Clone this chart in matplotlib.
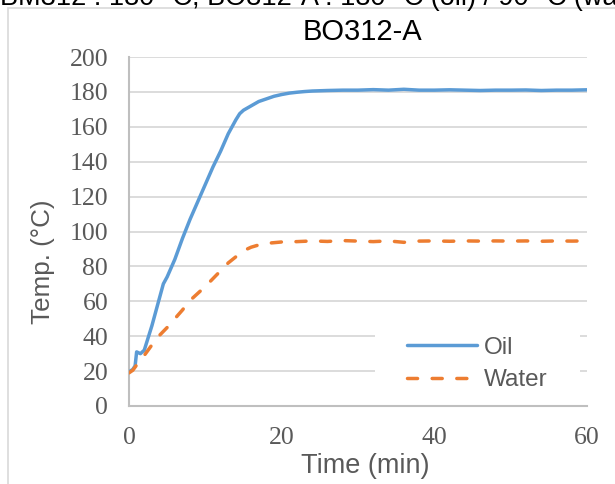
import matplotlib
matplotlib.use("Agg")
import matplotlib.pyplot as plt
from matplotlib.patches import Rectangle

# Oil temperature
oil_t = [0, 0.5, 0.8, 1.0, 1.5, 2.0, 2.5, 3.0, 3.5, 4.0, 4.5, 5.0, 6.0, 7.0, 8.0,
         9.0, 10, 11, 12, 13, 13.5, 14, 14.5, 15, 16, 17, 18, 19, 20, 21, 22, 23,
         24, 26, 28, 30, 32, 34, 36, 38, 40, 42, 44, 46, 48, 50, 52, 54, 56, 58, 60]
oil_T = [19.5, 21, 23, 31, 30, 32, 39, 46, 54, 62, 70, 74, 84, 96, 107,
         117, 127, 137, 146, 156, 160, 164, 167.5, 169.5, 172, 174.5, 176, 177.5, 178.5, 179.3, 179.8, 180.2,
         180.5, 180.8, 181, 181, 181.3, 181, 181.5, 181, 181, 181.2, 181, 180.8, 181, 181, 181.1, 180.8, 181, 181, 181.2]

# Water temperature
water_t = [0, 0.5, 1, 1.5, 2, 3, 4, 5, 6, 7, 8, 9, 10, 11, 12, 13, 14, 15, 16, 17,
           18, 19, 20, 22, 24, 26, 28, 30, 32, 34, 36, 38, 40, 42, 44, 46, 48, 50,
           52, 54, 56, 58, 60]
water_T = [19, 20.5, 23.5, 26, 29, 35, 40.5, 45, 50, 55, 60.5, 64.5, 68.5, 73, 77.5, 82, 85.5, 89, 91, 92.3,
           93.2, 93.6, 94, 94.2, 94.6, 94.3, 94.8, 94.5, 94.2, 94.6, 93.8, 94.5, 94.6, 94.4, 94.6, 94.5, 94.6, 94.5,
           94.6, 94.4, 94.6, 94.5, 94.6]

x_ticks = [0, 20, 40, 60]
y_ticks = list(range(0, 201, 20))

grey = "#595959"
sans = "Liberation Sans"
serif = "Liberation Serif"

fig = plt.figure(figsize=(6.15, 4.84), dpi=100)
# chart-area border and the caption line above it (cut off, as in the original)
fig.add_artist(Rectangle((8 / 615, -0.1), 1.0, 1 - 8 / 484 + 0.1, transform=fig.transFigure,
                         fill=False, edgecolor="#D9D9D9", lw=1.2))
fig.text(0.0, 1 - 5 / 484, "BM312 : 180 \u00b0C, BO312-A : 180 \u00b0C (oil) / 90 \u00b0C (water)",
         family=sans, fontsize=19.5, va="baseline", color="black")

ax = fig.add_axes([129 / 615, 1 - 406 / 484, 458 / 615, 349 / 484])

ax.plot(oil_t, oil_T, color="#5B9BD5", lw=2.5, solid_capstyle="round", label="Oil", zorder=3)
ax.plot(water_t, water_T, color="#ED7D31", lw=2.5, ls=(0, (2.9, 4.2)),
        dash_capstyle="round", label="Water", zorder=3)

ax.set_xlim(0, 60)
ax.set_ylim(0, 200)
ax.set_xticks(x_ticks)
ax.set_yticks(y_ticks)
ax.tick_params(length=0, labelsize=18.5, labelcolor=grey, pad=15)
for lab in ax.get_xticklabels() + ax.get_yticklabels():
    lab.set_family(serif)

ax.grid(axis="y", color="#D9D9D9", lw=1.3)
ax.set_axisbelow(True)
for s in ["top", "right"]:
    ax.spines[s].set_visible(False)
for s in ["left", "bottom"]:
    ax.spines[s].set_color("#BFBFBF")
    ax.spines[s].set_linewidth(1.5)

ax.set_title("BO312-A", family=sans, fontsize=21, color="black", pad=12.5, x=0.509)
ax.set_xlabel("Time (min)", family=sans, fontsize=19.5, color=grey)
ax.set_ylabel("Temp. (\u00b0C)", family=sans, fontsize=18.7, color=grey)
ax.xaxis.set_label_coords(0.515, -0.135)
ax.yaxis.set_label_coords(-0.162, 0.414)

# white legend background that hides the gridlines behind it
ax.add_patch(Rectangle((0.537, 0.03), 0.448, 0.23, transform=ax.transAxes,
                       facecolor="white", edgecolor="none", zorder=1))
leg = ax.legend(loc="upper left", bbox_to_anchor=(0.608, 0.198), frameon=False,
                prop={"family": sans, "size": 17.5}, handlelength=2.88, handletextpad=0.25,
                labelspacing=0.42, borderpad=0, borderaxespad=0)
for t in leg.get_texts():
    t.set_color(grey)

fig.savefig("out.png", dpi=100)
